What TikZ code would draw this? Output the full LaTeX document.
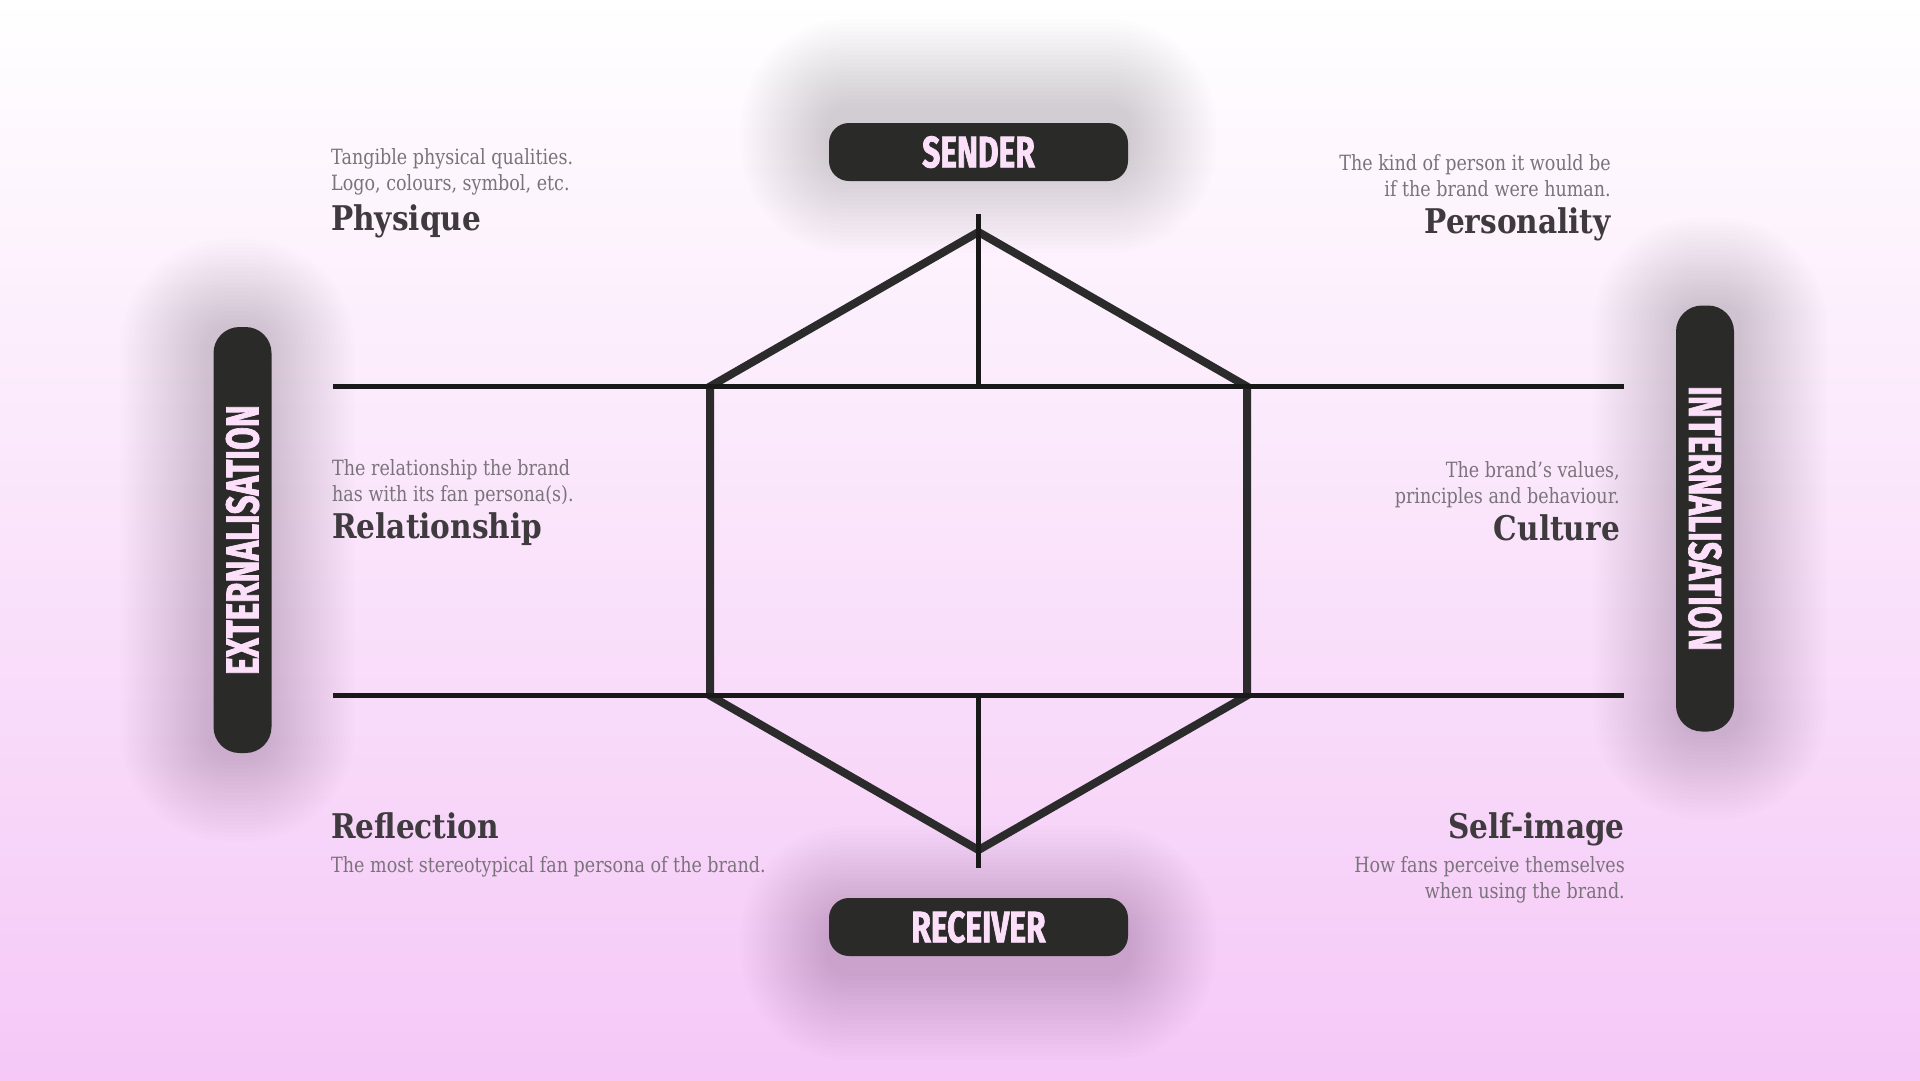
\documentclass[tikz,border=0pt]{standalone}
\usepackage{fontspec}
\setmainfont{DejaVu Serif}
\newfontfamily\descfont[FakeStretch=0.835]{DejaVu Serif}
\newfontfamily\headfont[FakeStretch=0.87]{DejaVu Serif}
\newfontfamily\pillfont[FakeStretch=0.72, FakeBold=1.5]{Fira Sans}
\usetikzlibrary{positioning}

\definecolor{pillgrey}{HTML}{2A2B28}
\definecolor{pilltext}{HTML}{FCE0FA}
\definecolor{desctext}{HTML}{7B737B}
\definecolor{headtext}{HTML}{3E3A3E}
\definecolor{hexline}{HTML}{2B2B2B}
\definecolor{bgmid}{HTML}{FAE5FB}
\definecolor{bgpink}{HTML}{F5C8F7}

\begin{document}
\begin{tikzpicture}[
	x=1pt, y=-1pt,
	pill/.style={
		fill=pillgrey,
		rounded corners=20pt,
		minimum width=299pt,
		minimum height=58pt,
		inner sep=0pt,
		text=pilltext,
		font=\pillfont\bfseries\fontsize{44}{44}\selectfont
	},
	sidepill/.style={
		pill,
		rounded corners=26pt,
		minimum width=426pt,
		font=\pillfont\bfseries\fontsize{46}{46}\selectfont
	},
	glowlayer/.style={fill=black, fill opacity=0.0075},
	desc/.style={
		inner sep=0pt,
		text=desctext,
		font=\descfont\fontsize{21}{26}\selectfont
	},
	title/.style={
		inner sep=0pt,
		text=headtext,
		text height=24pt,
		text depth=0pt,
		font=\headfont\bfseries\fontsize{34}{34}\selectfont
	},
	hexedge/.style={draw=hexline, line width=8pt, line join=miter},
	axis/.style={draw=black!90, line width=4.5pt}
	]
	
	\useasboundingbox (0,0) rectangle (1920,1080);
	\shade[top color=white, middle color=bgmid, bottom color=bgpink]
	(0,0) rectangle (1920,1080);
	
	\coordinate (senderpos) at (978.5,152);
	\coordinate (receiverpos) at (978.5,927);
	\coordinate (externpos) at (242.5,540);
	\coordinate (internpos) at (1705,518.5);
	
	% soft glow behind the pills
	\foreach \p/\hw/\hh/\dx/\dy in {senderpos/150/29/0/-16, receiverpos/150/29/0/16,
		externpos/29/213/-5/0, internpos/29/213/5/0}
	\foreach \g in {1,...,22} {
		\pgfmathsetmacro\gd{\g*4}
		\fill[glowlayer, shift={(\p)}, rounded corners=20pt+\gd pt]
		(\dx-\hw-\gd, \dy-\hh-\gd) rectangle (\dx+\hw+\gd, \dy+\hh+\gd);
	}
	
	% pills
	\node[pill] (sender) at (senderpos) {SENDER};
	\node[pill] (receiver) at (receiverpos) {RECEIVER};
	\node[sidepill, rotate=90] (extern) at (externpos) {EXTERNALISATION};
	\node[sidepill, rotate=-90] (intern) at (internpos) {INTERNALISATION};
	
	% hexagon and axes
	\coordinate (hexN) at (978.5,232);
	\coordinate (hexNE) at (1247,386.5);
	\coordinate (hexSE) at (1247,695.5);
	\coordinate (hexS) at (978.5,850);
	\coordinate (hexSW) at (710,695.5);
	\coordinate (hexNW) at (710,386.5);
	\coordinate (upperL) at (333,386.5);
	\coordinate (upperR) at (1624,386.5);
	\coordinate (lowerL) at (333,695.5);
	\coordinate (lowerR) at (1624,695.5);
	\coordinate (topstem) at (978.5,214);
	\coordinate (botstem) at (978.5,868);
	
	\draw[hexedge] (hexN) -- (hexNE) -- (hexSE) -- (hexS) -- (hexSW) -- (hexNW) -- cycle;
	\draw[axis] (upperL) -- (upperR);
	\draw[axis] (lowerL) -- (lowerR);
	\draw[axis] (topstem) -- (topstem |- upperL);
	\draw[axis] (botstem) -- (botstem |- lowerL);
	
	% facets
	\node[title, anchor=base west] (physique) at (331,230) {Physique};
	\node[desc, align=left, above=10pt of physique.north west, anchor=south west] (physiquetxt)
	{Tangible physical qualities.\\Logo, colours, symbol, etc.};
	
	\node[title, anchor=base east] (personality) at (1611,233) {Personality};
	\node[desc, align=right, above=12pt of personality.north east, anchor=south east] (personalitytxt)
	{The kind of person it would be\\if the brand were human.};
	
	\node[title, anchor=base west] (relationship) at (332,538) {Relationship};
	\node[desc, align=left, above=8pt of relationship.north west, anchor=south west] (relationshiptxt)
	{The relationship the brand\\has with its fan persona(s).};
	
	\node[title, anchor=base east] (culture) at (1620,540) {Culture};
	\node[desc, align=right, above=8pt of culture.north east, anchor=south east] (culturetxt)
	{The brand’s values,\\principles and behaviour.};
	
	\node[title, anchor=base west] (reflection) at (331,838) {Reflection};
	\node[desc, align=left, below=18pt of reflection.south west, anchor=north west] (reflectiontxt)
	{The most stereotypical fan persona of the brand.};
	
	\node[title, anchor=base east] (selfimage) at (1625,838) {Self-image};
	\node[desc, align=right, below=18pt of selfimage.south east, anchor=north east] (selfimagetxt)
	{How fans perceive themselves\\when using the brand.};
\end{tikzpicture}
\end{document}
